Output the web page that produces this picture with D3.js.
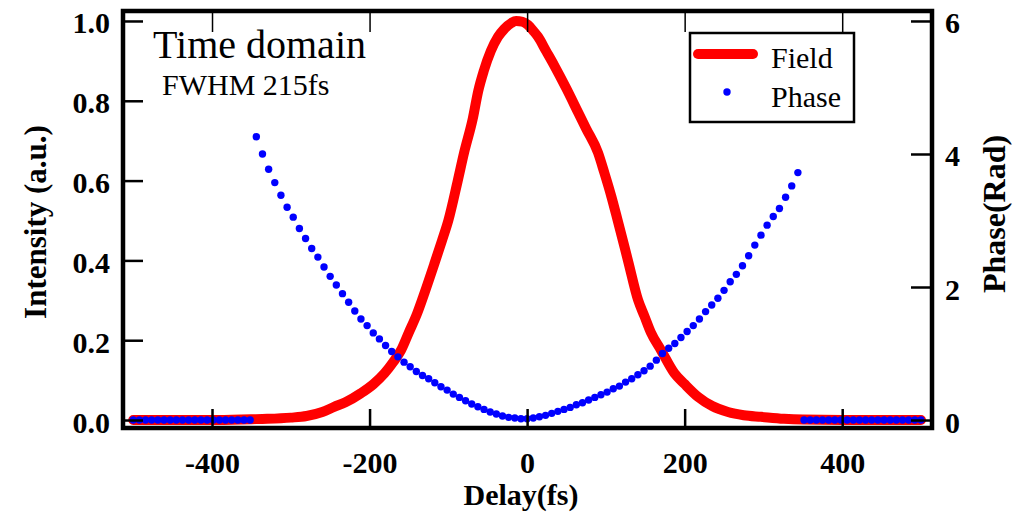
<!DOCTYPE html>
<html>
<head>
<meta charset="utf-8">
<script src="https://cdn.jsdelivr.net/npm/d3@7"></script>
<style>
  body { margin: 0; background: #fff; }
  svg { display: block; font-family: "Liberation Serif", "Times New Roman", serif; }
  .tick line { stroke: #000; }
  .tick text { font-family: "Liberation Serif", "Times New Roman", serif; font-weight: bold; font-size: 30px; fill: #000; }
  .title { font-weight: bold; font-size: 30px; }
</style>
</head>
<body>
<div id="plot"></div>
<script>
// field amplitude
var fieldDelay = [-500, -450, -400, -350, -330, -300, -280, -260, -245, -230, -211, -195, -181, -170, -160,
    -150, -140, -130, -118, -108, -100, -88, -80, -69, -62, -55, -46, -37, -29, -20, -14, -6, 1, 8, 14,
    24, 34, 50, 65, 75, 90, 98, 107, 115, 128, 141, 149, 157, 170, 187, 200, 217, 235, 255, 275, 297,
    326, 350, 400, 450, 500];
var fieldValue = [0, 0, 0, 0.002, 0.003, 0.006, 0.01, 0.02, 0.033, 0.045, 0.067, 0.09, 0.117, 0.145, 0.175,
    0.22, 0.265, 0.32, 0.39, 0.45, 0.5, 0.6, 0.67, 0.755, 0.825, 0.875, 0.925, 0.96, 0.98, 0.995, 1.0, 0.998, 0.99, 0.975, 0.96,
    0.925, 0.89, 0.83, 0.77, 0.73, 0.67, 0.62, 0.56, 0.5, 0.4, 0.3, 0.26, 0.22, 0.175, 0.117, 0.09, 0.058, 0.035, 0.02, 0.012, 0.008,
    0.003, 0.001, 0, 0, 0];

// phase sampled on a regular grid from -500 fs, step 7.8125 fs
var phaseStart = -500, phaseStep = 7.8125;
var phaseValue = [
    0, 0, 0, 0, 0, 0, 0, 0, 0, 0, 0, 0, 0, 0, 0, 0, 0, 0, 0, 0,
    4.26, 4.00, 3.77, 3.57, 3.38, 3.20, 3.05, 2.88, 2.73, 2.58,
    2.45, 2.30, 2.16, 2.03, 1.90, 1.77, 1.64, 1.52, 1.42, 1.31,
    1.22, 1.12, 1.03, 0.95, 0.87, 0.80, 0.73, 0.67, 0.62, 0.56,
    0.50, 0.45, 0.39, 0.34, 0.29, 0.24, 0.20, 0.16, 0.12, 0.09,
    0.06, 0.04, 0.03, 0.02, 0.02, 0.03, 0.05, 0.07, 0.10, 0.13,
    0.16, 0.19, 0.23, 0.26, 0.30, 0.34, 0.38, 0.42, 0.47, 0.51,
    0.57, 0.62, 0.68, 0.74, 0.81, 0.90, 1.00, 1.08, 1.15, 1.24,
    1.33, 1.42, 1.52, 1.63, 1.73, 1.83, 1.95, 2.08, 2.19, 2.32,
    2.47, 2.63, 2.78, 2.93, 3.06, 3.18, 3.35, 3.52, 3.72,
    0, 0, 0, 0, 0, 0, 0, 0, 0, 0, 0, 0, 0, 0, 0, 0, 0, 0, 0, 0
];

var xTicks = [-400, -200, 0, 200, 400];
var yTicks = [0, 0.2, 0.4, 0.6, 0.8, 1.0];
var y2Ticks = [0, 2, 4, 6];

var field = fieldDelay.map(function(t, i) { return {t: t, v: fieldValue[i]}; });
var phase = phaseValue.map(function(p, i) { return {t: phaseStart + i * phaseStep, v: p}; });

var width = 1023, height = 517;
var plotLeft = 123, plotRight = 932, plotTop = 11, plotBottom = 428;

var xScale = d3.scaleLinear().domain([-513, 514]).range([plotLeft, plotRight]);
var yScale = d3.scaleLinear().domain([-0.02, 1.025]).range([plotBottom, plotTop]);
var y2Scale = d3.scaleLinear().domain([-0.12, 6.15]).range([plotBottom, plotTop]);

var svg = d3.select('#plot').append('svg')
    .attr('width', width)
    .attr('height', height);

// curves
svg.append('path')
    .datum(field)
    .attr('fill', 'none')
    .attr('stroke', '#ff0000')
    .attr('stroke-width', 10)
    .attr('stroke-linecap', 'round')
    .attr('stroke-linejoin', 'round')
    .attr('d', d3.line()
        .x(function(d) { return xScale(d.t); })
        .y(function(d) { return yScale(d.v); })
        .curve(d3.curveMonotoneX));

svg.append('g')
    .selectAll('circle')
    .data(phase)
    .enter()
    .append('circle')
    .attr('cx', function(d) { return xScale(d.t); })
    .attr('cy', function(d) { return y2Scale(d.v); })
    .attr('r', 3.7)
    .attr('fill', '#0000ff');

// axes, ticks pointing inward
var plain = function(d) { return String(d); };

var xAxis = svg.append('g')
    .attr('transform', 'translate(0,' + plotBottom + ')')
    .call(d3.axisBottom(xScale).tickValues(xTicks).tickSizeInner(-19).tickSizeOuter(0).tickPadding(24).tickFormat(plain));
xAxis.selectAll('.tick line').attr('stroke-width', 2.5);

var xTop = svg.append('g')
    .attr('transform', 'translate(0,' + plotTop + ')')
    .call(d3.axisTop(xScale).tickValues(xTicks).tickSizeInner(-21).tickSizeOuter(0).tickFormat(''));
xTop.selectAll('.tick line').attr('stroke-width', 1.5);

var yAxis = svg.append('g')
    .attr('transform', 'translate(' + plotLeft + ',0)')
    .call(d3.axisLeft(yScale).tickValues(yTicks).tickSizeInner(-20).tickSizeOuter(0).tickPadding(13).tickFormat(d3.format('.1f')));
yAxis.selectAll('.tick line').attr('stroke-width', 2.5);
yAxis.selectAll('.tick text').attr('dy', '0.4em');

var y2Axis = svg.append('g')
    .attr('transform', 'translate(' + plotRight + ',0)')
    .call(d3.axisRight(y2Scale).tickValues(y2Ticks).tickSizeInner(-21).tickSizeOuter(0).tickPadding(13).tickFormat(plain));
y2Axis.selectAll('.tick line').attr('stroke-width', 2.5);
y2Axis.selectAll('.tick text').attr('dy', '0.4em');

svg.selectAll('.domain').remove();

svg.append('rect')
    .attr('x', plotLeft)
    .attr('y', plotTop)
    .attr('width', plotRight - plotLeft)
    .attr('height', plotBottom - plotTop)
    .attr('fill', 'none')
    .attr('stroke', '#000')
    .attr('stroke-width', 4.5);

// titles
svg.append('text')
    .classed('title', true)
    .attr('text-anchor', 'middle')
    .attr('transform', 'translate(521,505)')
    .text('Delay(fs)');

svg.append('text')
    .classed('title', true)
    .attr('text-anchor', 'middle')
    .style('font-size', '31px')
    .attr('transform', 'translate(46,222) rotate(-90)')
    .text('Intensity (a.u.)');

svg.append('text')
    .classed('title', true)
    .attr('text-anchor', 'middle')
    .style('font-size', '32px')
    .attr('transform', 'translate(1005,214) rotate(-90)')
    .text('Phase(Rad)');

svg.append('text')
    .attr('x', 153)
    .attr('y', 58)
    .style('font-size', '40px')
    .text('Time domain');

svg.append('text')
    .attr('x', 162)
    .attr('y', 95)
    .style('font-size', '30px')
    .text('FWHM 215fs');

// legend
var legend = svg.append('g');
legend.append('rect')
    .attr('x', 690)
    .attr('y', 33)
    .attr('width', 164)
    .attr('height', 89)
    .attr('fill', '#fff')
    .attr('stroke', '#000')
    .attr('stroke-width', 2.5);
legend.append('line')
    .attr('x1', 698).attr('x2', 753)
    .attr('y1', 54).attr('y2', 54)
    .attr('stroke', '#ff0000')
    .attr('stroke-width', 10)
    .attr('stroke-linecap', 'round');
legend.append('circle')
    .attr('cx', 727)
    .attr('cy', 92)
    .attr('r', 3.7)
    .attr('fill', '#0000ff');
legend.append('text')
    .attr('x', 771).attr('y', 68)
    .style('font-size', '30px')
    .text('Field');
legend.append('text')
    .attr('x', 771).attr('y', 107)
    .style('font-size', '30px')
    .text('Phase');
</script>
</body>
</html>
